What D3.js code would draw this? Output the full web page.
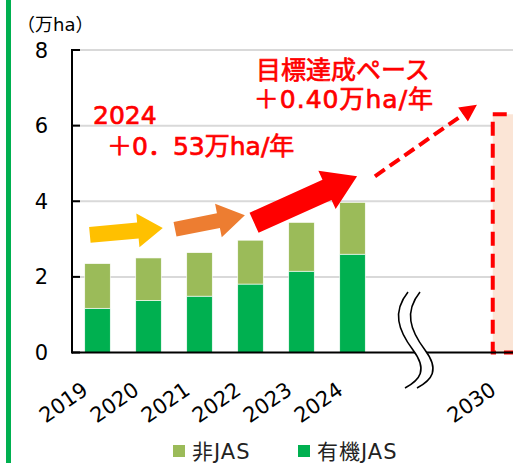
<!DOCTYPE html>
<html>
<head>
<meta charset="utf-8">
<script src="https://cdn.jsdelivr.net/npm/d3@7"></script>
<style>
body { margin: 0; background: #fff; }
svg { display: block; font-family: "DejaVu Sans", Verdana, "Noto Sans CJK JP", sans-serif; }
</style>
</head>
<body>
<svg id="vis" width="513" height="463"></svg>
<script>
// data (万ha)
var years = ["2019", "2020", "2021", "2022", "2023", "2024"];
var slots = ["2019", "2020", "2021", "2022", "2023", "2024", "gap1", "gap2", "2030"];
var organicJAS = [1.17, 1.38, 1.49, 1.81, 2.15, 2.60];
var nonJAS = [1.18, 1.12, 1.15, 1.16, 1.29, 1.37];
var target2030 = 6.3;
var yTicks = [0, 2, 4, 6, 8];
var seriesNames = ["非JAS", "有機JAS"];
var seriesColors = ["#9BBB59", "#00B050"];

// arrows in (slot index, value) space
var arrows = [
	{ from: [-0.15, 3.11], to: [1.28, 3.29], color: "#FFC000", sw: 16, hw: 34, hl: 25 },
	{ from: [1.52, 3.26], to: [2.89, 3.63], color: "#ED7D31", sw: 15, hw: 34, hl: 27 },
	{ from: [3.07, 3.43], to: [5.09, 4.66], color: "#FF0000", sw: 22, hw: 42, hl: 33 }
];
var paceLine = { from: [5.44, 4.66], to: [7.44, 6.55] };

var svg = d3.select("#vis");

// left green stripe
svg.append("rect").attr("x", 6).attr("y", 0).attr("width", 5).attr("height", 463).attr("fill", "#00B050");

var x = d3.scaleBand().domain(slots).range([72, 531]).paddingInner(0.5).paddingOuter(0.25);
var y = d3.scaleLinear().domain([0, 8]).range([352.5, 50]);
var xi = d3.scaleLinear().domain([0, 1]).range([x("2019") + x.bandwidth() / 2, x("2020") + x.bandwidth() / 2]);

// gridlines
svg.append("g").selectAll("line")
	.data(yTicks.filter(function(d) { return d > 0; }))
	.enter().append("line")
	.attr("x1", 72).attr("x2", 513)
	.attr("y1", function(d) { return y(d); })
	.attr("y2", function(d) { return y(d); })
	.attr("stroke", "#D9D9D9").attr("stroke-width", 2);

// stacked bars
var stackData = years.map(function(yr, i) { return { year: yr, organic: organicJAS[i], non: nonJAS[i] }; });
var stack = d3.stack().keys(["organic", "non"])(stackData);
var keyColor = { organic: seriesColors[1], non: seriesColors[0] };

svg.append("g").selectAll("g")
	.data(stack)
	.enter().append("g")
	.attr("fill", function(d) { return keyColor[d.key]; })
	.selectAll("rect")
	.data(function(d) { return d; })
	.enter().append("rect")
	.attr("x", function(d) { return x(d.data.year); })
	.attr("width", x.bandwidth())
	.attr("y", function(d) { return y(d[1]); })
	.attr("height", function(d) { return y(d[0]) - y(d[1]); })
	.attr("stroke", "#fff").attr("stroke-width", 0.6);

// 2030 target box
svg.append("rect")
	.attr("x", x("2030")).attr("width", x.bandwidth())
	.attr("y", y(target2030)).attr("height", y(0) - y(target2030))
	.attr("fill", "#FBE5D6")
	.attr("stroke", "#FF0000").attr("stroke-width", 4).attr("stroke-dasharray", "14,8");

// axes
svg.append("line").attr("x1", 72).attr("x2", 513).attr("y1", y(0)).attr("y2", y(0)).attr("stroke", "#000").attr("stroke-width", 2);
svg.append("line").attr("x1", 72).attr("x2", 72).attr("y1", y(8) - 1).attr("y2", y(0) + 1).attr("stroke", "#000").attr("stroke-width", 2);
svg.append("g").selectAll("line")
	.data(yTicks)
	.enter().append("line")
	.attr("x1", 72).attr("x2", 80)
	.attr("y1", function(d) { return y(d); })
	.attr("y2", function(d) { return y(d); })
	.attr("stroke", "#000").attr("stroke-width", 2);

svg.append("g").selectAll("text")
	.data(yTicks)
	.enter().append("text")
	.attr("x", 48).attr("y", function(d) { return y(d); })
	.attr("dy", "0.36em").attr("text-anchor", "end")
	.attr("font-size", 21).attr("fill", "#000")
	.text(function(d) { return d; });

svg.append("text").attr("x", 17).attr("y", 31).attr("font-size", 18).text("（万ha）");

// axis break mark
var brk = "M 408 292 C 392 312, 398 330, 413 350 C 428 370, 420 380, 405 388";
svg.append("path").attr("d", brk).attr("fill", "none").attr("stroke", "#fff").attr("stroke-width", 10).attr("transform", "translate(6,0)");
[0, 12].forEach(function(dx) {
	svg.append("path").attr("d", brk).attr("transform", "translate(" + dx + ",0)")
		.attr("fill", "none").attr("stroke", "#000").attr("stroke-width", 1.6);
});

// x labels
svg.append("g").selectAll("text")
	.data(years.concat(["2030"]))
	.enter().append("text")
	.attr("transform", function(d) { return "translate(" + (x(d) + x.bandwidth() / 2 - 8) + ",393) rotate(-35)"; })
	.attr("text-anchor", "end").attr("font-size", 21).attr("fill", "#000")
	.text(function(d) { return d; });

// arrows
function arrowPoints(a) {
	var x0 = xi(a.from[0]), y0 = y(a.from[1]), x1 = xi(a.to[0]), y1 = y(a.to[1]);
	var len = Math.hypot(x1 - x0, y1 - y0), ux = (x1 - x0) / len, uy = (y1 - y0) / len;
	var nx = -uy, ny = ux;
	var bx = x1 - ux * a.hl, by = y1 - uy * a.hl;
	return [
		[x0 + nx * a.sw / 2, y0 + ny * a.sw / 2],
		[bx + nx * a.sw / 2, by + ny * a.sw / 2],
		[bx + nx * a.hw / 2, by + ny * a.hw / 2],
		[x1, y1],
		[bx - nx * a.hw / 2, by - ny * a.hw / 2],
		[bx - nx * a.sw / 2, by - ny * a.sw / 2],
		[x0 - nx * a.sw / 2, y0 - ny * a.sw / 2]
	].map(function(p) { return p.join(","); }).join(" ");
}
svg.append("g").selectAll("polygon")
	.data(arrows)
	.enter().append("polygon")
	.attr("points", arrowPoints)
	.attr("fill", function(d) { return d.color; });

// dashed pace arrow
var px0 = xi(paceLine.from[0]), py0 = y(paceLine.from[1]), px1 = xi(paceLine.to[0]), py1 = y(paceLine.to[1]);
var plen = Math.hypot(px1 - px0, py1 - py0), pux = (px1 - px0) / plen, puy = (py1 - py0) / plen;
svg.append("line")
	.attr("x1", px0).attr("y1", py0)
	.attr("x2", px1 - pux * 12).attr("y2", py1 - puy * 12)
	.attr("stroke", "#FF0000").attr("stroke-width", 4).attr("stroke-dasharray", "12,6");
svg.append("polygon")
	.attr("points", arrowPoints({ from: paceLine.from, to: paceLine.to, sw: 0, hw: 17, hl: 17 }))
	.attr("fill", "#FF0000");

// red annotations
var red = svg.append("g").attr("fill", "#FF0000").attr("stroke", "#FF0000").attr("stroke-width", 0.7).attr("font-size", 25);
red.append("text").attr("x", 93).attr("y", 124).text("2024");
red.append("text").attr("x", 107).attr("y", 155).text("＋0．53万ha/年");
red.append("text").attr("x", 343).attr("y", 79).attr("text-anchor", "middle").text("目標達成ペース");
red.append("text").attr("x", 344).attr("y", 108).attr("text-anchor", "middle").attr("letter-spacing", 1).text("＋0.40万ha/年");

// legend
var legend = svg.append("g").selectAll("g")
	.data(seriesNames)
	.enter().append("g")
	.attr("transform", function(d, i) { return "translate(" + (173 + i * 125) + ",445)"; });
legend.append("rect").attr("width", 12).attr("height", 12).attr("fill", function(d, i) { return seriesColors[i]; });
legend.append("text").attr("x", 19).attr("y", 6).attr("dy", "0.36em").attr("font-size", 21).attr("letter-spacing", 1).attr("fill", "#222").text(function(d) { return d; });
</script>
</body>
</html>
